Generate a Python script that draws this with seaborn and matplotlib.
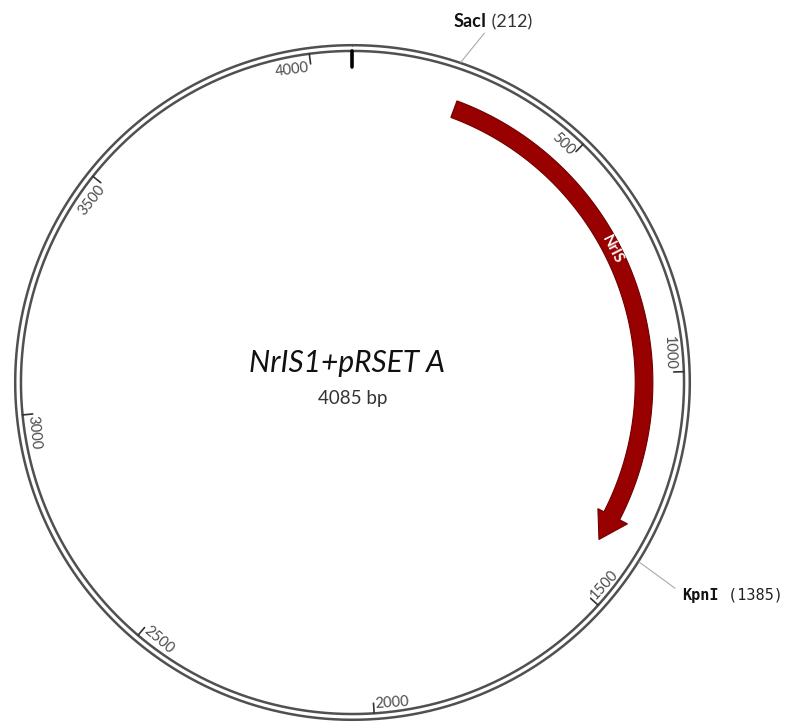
import numpy as np
import matplotlib.pyplot as plt
import seaborn as sns

# plasmid data
plasmid_name = "NrIS1+pRSET A"
plasmid_len = 4085
tick_positions = [500, 1000, 1500, 2000, 2500, 3000, 3500, 4000]
tick_labels = ["500", "1000", "1500", "2000", "2500", "3000", "3500", "4000"]
feature_name = "NrIS"
feature_start = 231
feature_end = 1390
site_names = ["SacI", "KpnI"]
site_positions = [212, 1385]

sns.set_theme(style="white")
plt.rcParams['font.family'] = ['Lato', 'DejaVu Sans']


def bp2rad(bp):
    return 2 * np.pi * np.asarray(bp, dtype=float) / plasmid_len


fig = plt.figure(figsize=(7.87, 7.23), dpi=100)
ax = fig.add_axes([0.01715, 0.00207, 0.8615, 0.9378], projection='polar')
ax.set_theta_zero_location('N')
ax.set_theta_direction(-1)

# backbone: two thin concentric rings
full = np.linspace(0, 2 * np.pi, 720)
for r in [0.995, 0.978]:
    sns.lineplot(x=full, y=np.full_like(full, r), ax=ax, color='#505050',
                 linewidth=1.8, sort=False, clip_on=False)

# position ticks and labels
for pos, lab in zip(tick_positions, tick_labels):
    th = bp2rad(pos)
    ax.plot([th, th], [0.978, 0.948], color='#333333', linewidth=1.2)
    deg = np.degrees(th)
    gap = np.radians(0.35)
    if 90 < deg < 270:
        ax.text(th - gap, 0.962, lab, rotation=180 - deg, rotation_mode='anchor',
                ha='left', va='baseline', fontsize=10.5, color='#4a4a4a')
    else:
        ax.text(th - gap, 0.958, lab, rotation=-deg, rotation_mode='anchor',
                ha='right', va='top', fontsize=10.5, color='#4a4a4a')

# origin marker
ax.plot([0, 0], [0.978, 0.932], color='black', linewidth=2.6)

# feature arrow
r_in, r_out = 0.834, 0.886
h_in, h_out, r_tip = 0.814, 0.912, 0.862
th_s = bp2rad(feature_start)
th_e = bp2rad(feature_end)
th_h = th_e - bp2rad(60)
arc = np.linspace(th_s, th_h, 200)
poly_t = np.concatenate([arc, [th_h, th_e, th_h], arc[::-1]])
poly_r = np.concatenate([np.full_like(arc, r_out), [h_out, r_tip, h_in],
                         np.full_like(arc, r_in)])
ax.fill(poly_t, poly_r, facecolor='#990000', edgecolor='#700000', linewidth=0.8)

mid = bp2rad(713)
ax.text(mid, (r_in + r_out) / 2, feature_name, rotation=-np.degrees(mid),
        rotation_mode='anchor', ha='center', va='center', fontsize=11,
        fontweight='bold', color='white')

# restriction sites: leader line, bold name, position in brackets
xy1 = (bp2rad(site_positions[0]), 0.997)
ax.annotate("", xy=xy1, xytext=(17, 21), textcoords='offset points',
            arrowprops=dict(arrowstyle='-', color='#aaaaaa', lw=0.8,
                            shrinkA=0, shrinkB=0))
t1 = ax.annotate(site_names[0], xy=xy1, xytext=(-5, 23), textcoords='offset points',
                 ha='left', va='bottom', fontsize=13, fontweight='bold',
                 color='#111111')
ax.annotate(" (" + str(site_positions[0]) + ")", xy=(1, 0), xycoords=t1,
            ha='left', va='bottom', fontsize=13, color='#333333')

xy2 = (bp2rad(site_positions[1]), 0.997)
ax.annotate("", xy=xy2, xytext=(26, -19), textcoords='offset points',
            arrowprops=dict(arrowstyle='-', color='#aaaaaa', lw=0.8,
                            shrinkA=0, shrinkB=0))
t2 = ax.annotate(site_names[1], xy=xy2, xytext=(31, -24), textcoords='offset points',
                 ha='left', va='center', fontsize=11, fontweight='bold',
                 color='#111111', family='DejaVu Sans Mono')
ax.annotate(" (" + str(site_positions[1]) + ")", xy=(1, 0.5), xycoords=t2,
            ha='left', va='center', fontsize=11, color='#222222',
            family='DejaVu Sans Mono')

# centre labels
ax.text(0.4926, 0.5 + 19.5 / 678, plasmid_name, transform=ax.transAxes,
        ha='center', va='center', fontsize=21.5, style='italic', color='#111111')
ax.text(0.5, 0.5 - 16.5 / 678, str(plasmid_len) + " bp", transform=ax.transAxes,
        ha='center', va='center', fontsize=13.5, color='#333333')

ax.set_ylim(0, 1)
ax.axis('off')

fig.savefig('out.png', dpi=100)
